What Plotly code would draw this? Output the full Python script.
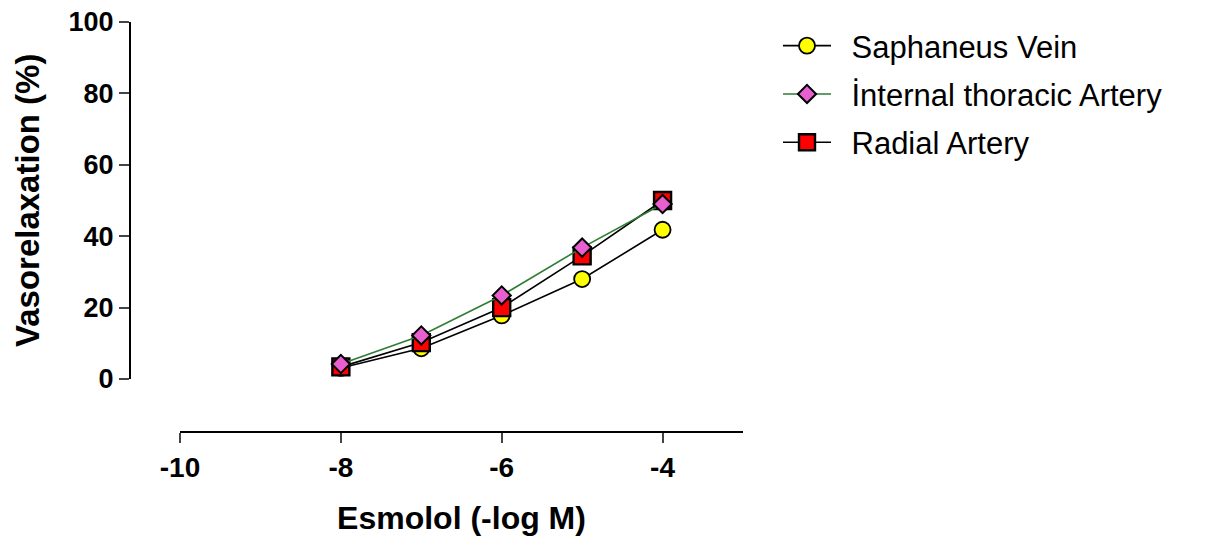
import plotly.graph_objects as go

x_conc = [-8, -7, -6, -5, -4]
saphaneus = [3.1, 8.6, 17.8, 28.0, 41.8]
internal_thoracic = [4.2, 12.2, 23.4, 36.8, 49.0]
radial = [3.4, 10.2, 20.0, 34.5, 50.0]

series_names = ["Saphaneus Vein", "İnternal thoracic Artery", "Radial Artery"]
x_ticks = [-10, -8, -6, -4]
x_tick_text = ["-10", "-8", "-6", "-4"]
y_ticks = [0, 20, 40, 60, 80, 100]

FONT = "Arial, Liberation Sans, Helvetica, sans-serif"
PAD = "\u2002"  # small visual gap between legend symbol and text

fig = go.Figure()

fig.add_trace(go.Scatter(
    x=x_conc, y=saphaneus, name=PAD + series_names[0], mode="lines+markers",
    legendrank=1, legendgroup="a",
    line=dict(color="black", width=1.6),
    marker=dict(symbol="circle", size=16, color="#ffff00", line=dict(color="black", width=1.8)),
    cliponaxis=False,
))
fig.add_trace(go.Scatter(
    x=x_conc, y=radial, name=PAD + series_names[2], mode="lines+markers",
    legendrank=3, legendgroup="c",
    line=dict(color="black", width=1.6),
    marker=dict(symbol="square", size=17, color="#ff0000", line=dict(color="black", width=2.4)),
    cliponaxis=False,
))
fig.add_trace(go.Scatter(
    x=x_conc, y=internal_thoracic, name=PAD + series_names[1], mode="lines+markers",
    legendrank=2, legendgroup="b",
    line=dict(color="#2e7d32", width=1.6),
    marker=dict(symbol="diamond", size=14, color="#e85fd0", line=dict(color="black", width=2)),
    cliponaxis=False,
))

W, H = 1205, 546
OFF = 8  # page body margin
TOP = 22
ml, mr, mt, mb = 130 - OFF, W - (743 - OFF), TOP - OFF, H - (432 - OFF)
pw = W - ml - mr
ph = H - mt - mb

fig.update_layout(
    width=W, height=H,
    margin=dict(l=ml, r=mr, t=mt, b=mb, autoexpand=False),
    plot_bgcolor="white", paper_bgcolor="white",
    font=dict(family=FONT, color="black"),
    showlegend=True,
    legend=dict(
        x=(778 - 130) / pw, y=1.0 + 3 / ph, xanchor="left", yanchor="top",
        font=dict(size=31, family=FONT, color="black"),
        tracegroupgap=5, itemwidth=48,
        bgcolor="rgba(0,0,0,0)",
    ),
    xaxis=dict(
        domain=[50 / pw, 1], range=[-10, -3], anchor="free", position=0,
        tickvals=x_ticks, ticktext=x_tick_text, ticks="outside", ticklen=10, tickwidth=2,
        showline=True, linewidth=2, linecolor="black", showgrid=False, zeroline=False,
        tickfont=dict(size=28, family=FONT, color="black", weight="bold"),
        automargin=False, ticklabeloverflow="allow",
        title=dict(text="<b>Esmolol (-log M)</b>", font=dict(size=32, family=FONT), standoff=24),
    ),
    yaxis=dict(
        domain=[(432 - 379) / ph, 1],
        range=[0, 100], anchor="free", position=0,
        tickvals=y_ticks, ticks="outside", ticklen=10, tickwidth=2,
        showline=True, linewidth=2, linecolor="black", showgrid=False, zeroline=False,
        tickfont=dict(size=27, family=FONT, color="black", weight="bold"),
        automargin=False, ticklabeloverflow="allow",
    ),
    annotations=[dict(
        text="<b>Vasorelaxation (%)</b>", textangle=-90, showarrow=False,
        xref="paper", yref="paper",
        x=(27 - 130) / pw, y=(432 - 201) / ph, xanchor="center", yanchor="middle",
        font=dict(size=33, family=FONT, color="black"),
    )],
)

fig.write_html("out.html")
